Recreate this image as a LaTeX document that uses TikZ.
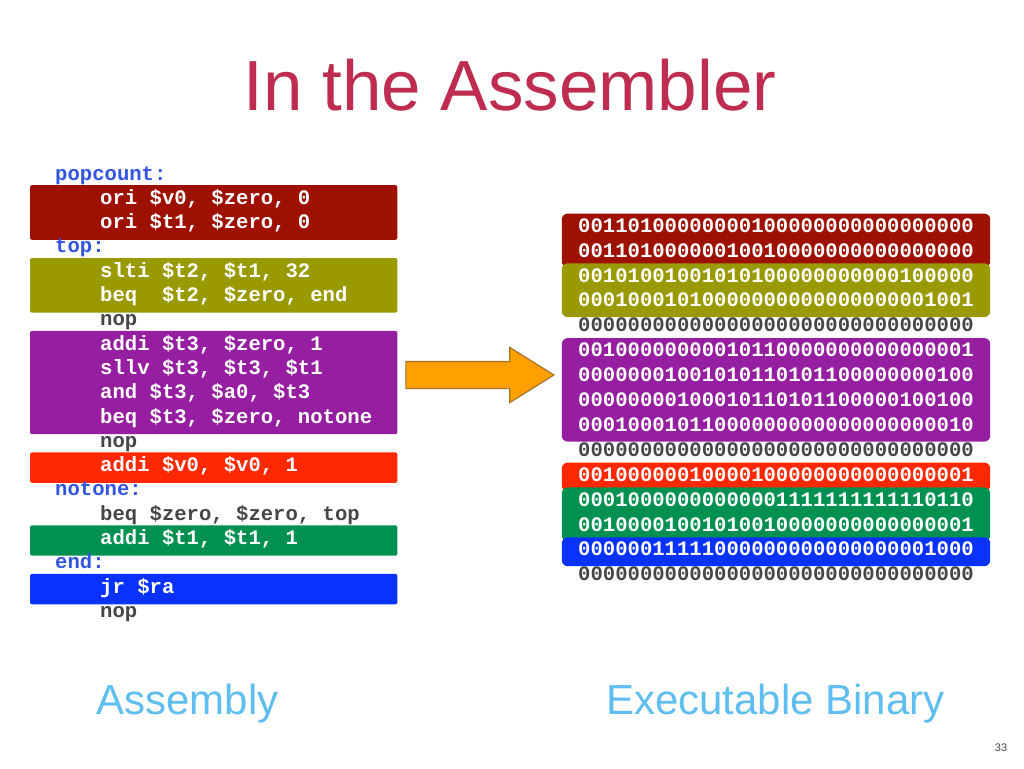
\documentclass[tikz,border=0pt]{standalone}
\usepackage{fontspec}
\setmainfont{Liberation Sans}
\setmonofont{Liberation Mono}
\usetikzlibrary{shapes.arrows, positioning, fit, backgrounds}
\definecolor{titlerose}{RGB}{190, 45, 80}
\definecolor{capblue}{RGB}{95, 190, 240}
\definecolor{lblblue}{RGB}{50, 85, 225}
\definecolor{nopgray}{RGB}{70, 70, 70}
\definecolor{bandred}{RGB}{158, 16, 0}
\definecolor{bandolive}{RGB}{153, 153, 0}
\definecolor{bandpurple}{RGB}{150, 30, 160}
\definecolor{bandorange}{RGB}{255, 40, 0}
\definecolor{bandgreen}{RGB}{0, 145, 80}
\definecolor{bandblue}{RGB}{10, 50, 255}
\definecolor{arroworange}{RGB}{255, 160, 0}
\definecolor{arrowedge}{RGB}{165, 115, 40}
\newcommand{\codefont}{\ttfamily\bfseries\fontsize{20.6}{24}\selectfont}
% fixed-width spaces (align=left would shrink them)
\newcommand{\monospaces}{\spaceskip=12.36pt\relax\xspaceskip=12.36pt\relax}
\newcommand{\ind}{\monospaces\hspace*{70pt}}
\newcommand{\lind}{\monospaces\hspace*{25pt}}
\tikzset{
  title/.style={inner sep=0pt, text=titlerose, font=\fontsize{71}{71}\selectfont},
  caption/.style={inner sep=0pt, anchor=base, text=capblue,
    font=\fontsize{42}{42}\selectfont},
  asmline/.style={inner sep=0pt, text height=16pt, text depth=7.9pt,
    text width=367pt, align=left, font=\codefont, text=white},
  lbl/.style={asmline, text=lblblue},
  nopline/.style={asmline, text=nopgray},
  binline/.style={inner sep=0pt, text height=16.5pt, text depth=8pt,
    text width=428pt, align=center, font=\codefont, text=white},
  binnop/.style={binline, text=nopgray},
  asmband/.style={rectangle, rounded corners=2pt, inner xsep=0pt, inner ysep=3pt},
  binband/.style={rectangle, rounded corners=6pt, inner xsep=0pt, inner ysep=2pt},
  bigarrow/.style={single arrow, draw=arrowedge, fill=arroworange, line width=1.2pt,
    inner xsep=0pt, inner ysep=13pt, minimum height=148pt, minimum width=54pt,
    single arrow head extend=14pt, single arrow tip angle=64}
}

\begin{document}
\begin{tikzpicture}[x=1pt, y=-1pt]
\useasboundingbox (0,0) rectangle (1024,768);

\node (title) [title] at (510,85) {In the Assembler};

% assembly listing
\node (a0)  [lbl, anchor=west] at (30,176) {\lind popcount:};
\node (a1)  [asmline, below=0pt of a0]  {\ind ori \$v0, \$zero, 0};
\node (a2)  [asmline, below=0pt of a1]  {\ind ori \$t1, \$zero, 0};
\node (a3)  [lbl, below=0pt of a2]      {\lind top:};
\node (a4)  [asmline, below=0pt of a3]  {\ind slti \$t2, \$t1, 32};
\node (a5)  [asmline, below=0pt of a4]  {\ind beq\ \ \$t2, \$zero, end};
\node (a6)  [nopline, below=0pt of a5]  {\ind nop};
\node (a7)  [asmline, below=0pt of a6]  {\ind addi \$t3, \$zero, 1};
\node (a8)  [asmline, below=0pt of a7]  {\ind sllv \$t3, \$t3, \$t1};
\node (a9)  [asmline, below=0pt of a8]  {\ind and \$t3, \$a0, \$t3};
\node (a10) [asmline, below=0pt of a9]  {\ind beq \$t3, \$zero, notone};
\node (a11) [nopline, below=0pt of a10] {\ind nop};
\node (a12) [asmline, below=0pt of a11] {\ind addi \$v0, \$v0, 1};
\node (a13) [lbl, below=0pt of a12]     {\lind notone:};
\node (a14) [nopline, below=0pt of a13] {\ind beq \$zero, \$zero, top};
\node (a15) [asmline, below=0pt of a14] {\ind addi \$t1, \$t1, 1};
\node (a16) [lbl, below=0pt of a15]     {\lind end:};
\node (a17) [asmline, below=0pt of a16] {\ind jr \$ra};
\node (a18) [nopline, below=0pt of a17] {\ind nop};

% machine code
\node (b0)  [binline] at (776,228) {00110100000000100000000000000000};
\node (b1)  [binline, below=0pt of b0]  {00110100000010010000000000000000};
\node (b2)  [binline, below=0pt of b1]  {00101001001010100000000000100000};
\node (b3)  [binline, below=0pt of b2]  {00010001010000000000000000001001};
\node (b4)  [binnop, below=0pt of b3]   {00000000000000000000000000000000};
\node (b5)  [binline, below=0pt of b4]  {00100000000010110000000000000001};
\node (b6)  [binline, below=0pt of b5]  {00000001001010110101100000000100};
\node (b7)  [binline, below=0pt of b6]  {00000000100010110101100000100100};
\node (b8)  [binline, below=0pt of b7]  {00010001011000000000000000000010};
\node (b9)  [binnop, below=0pt of b8]   {00000000000000000000000000000000};
\node (b10) [binline, below=0pt of b9]  {00100000010000100000000000000001};
\node (b11) [binline, below=0pt of b10] {00010000000000001111111111110110};
\node (b12) [binline, below=0pt of b11] {00100001001010010000000000000001};
\node (b13) [binline, below=0pt of b12] {00000011111000000000000000001000};
\node (b14) [binnop, below=0pt of b13]  {00000000000000000000000000000000};

\begin{pgfonlayer}{background}
\fill[white] (0,0) rectangle (1024,768);
\node (redL)    [asmband, fill=bandred,    fit=(a1)(a2)]  {};
\node (oliveL)  [asmband, fill=bandolive,  fit=(a4)(a5)]  {};
\node (purpleL) [asmband, fill=bandpurple, fit=(a7)(a10)] {};
\node (orangeL) [asmband, fill=bandorange, fit=(a12)]     {};
\node (greenL)  [asmband, fill=bandgreen,  fit=(a15)]     {};
\node (blueL)   [asmband, fill=bandblue,   fit=(a17)]     {};
\node (redR)    [binband, fill=bandred,    fit=(b0)(b1)]  {};
\node (oliveR)  [binband, fill=bandolive,  fit=(b2)(b3)]  {};
\node (purpleR) [binband, fill=bandpurple, fit=(b5)(b8)]  {};
\node (orangeR) [binband, fill=bandorange, fit=(b10)]     {};
\node (greenR)  [binband, fill=bandgreen,  fit=(b11)(b12)] {};
\node (blueR)   [binband, fill=bandblue,   fit=(b13)]     {};
\end{pgfonlayer}

\node (conv) [bigarrow] at (469,375) {};

\node (asmcap) [caption] at (187.5,714) {Assembly};
\node (bincap) [caption] at (775.5,714) {Executable Binary};
\node (pageno) [inner sep=0pt, text=nopgray, font=\fontsize{11}{11}\selectfont] at (1001,748) {33};
\end{tikzpicture}
\end{document}
